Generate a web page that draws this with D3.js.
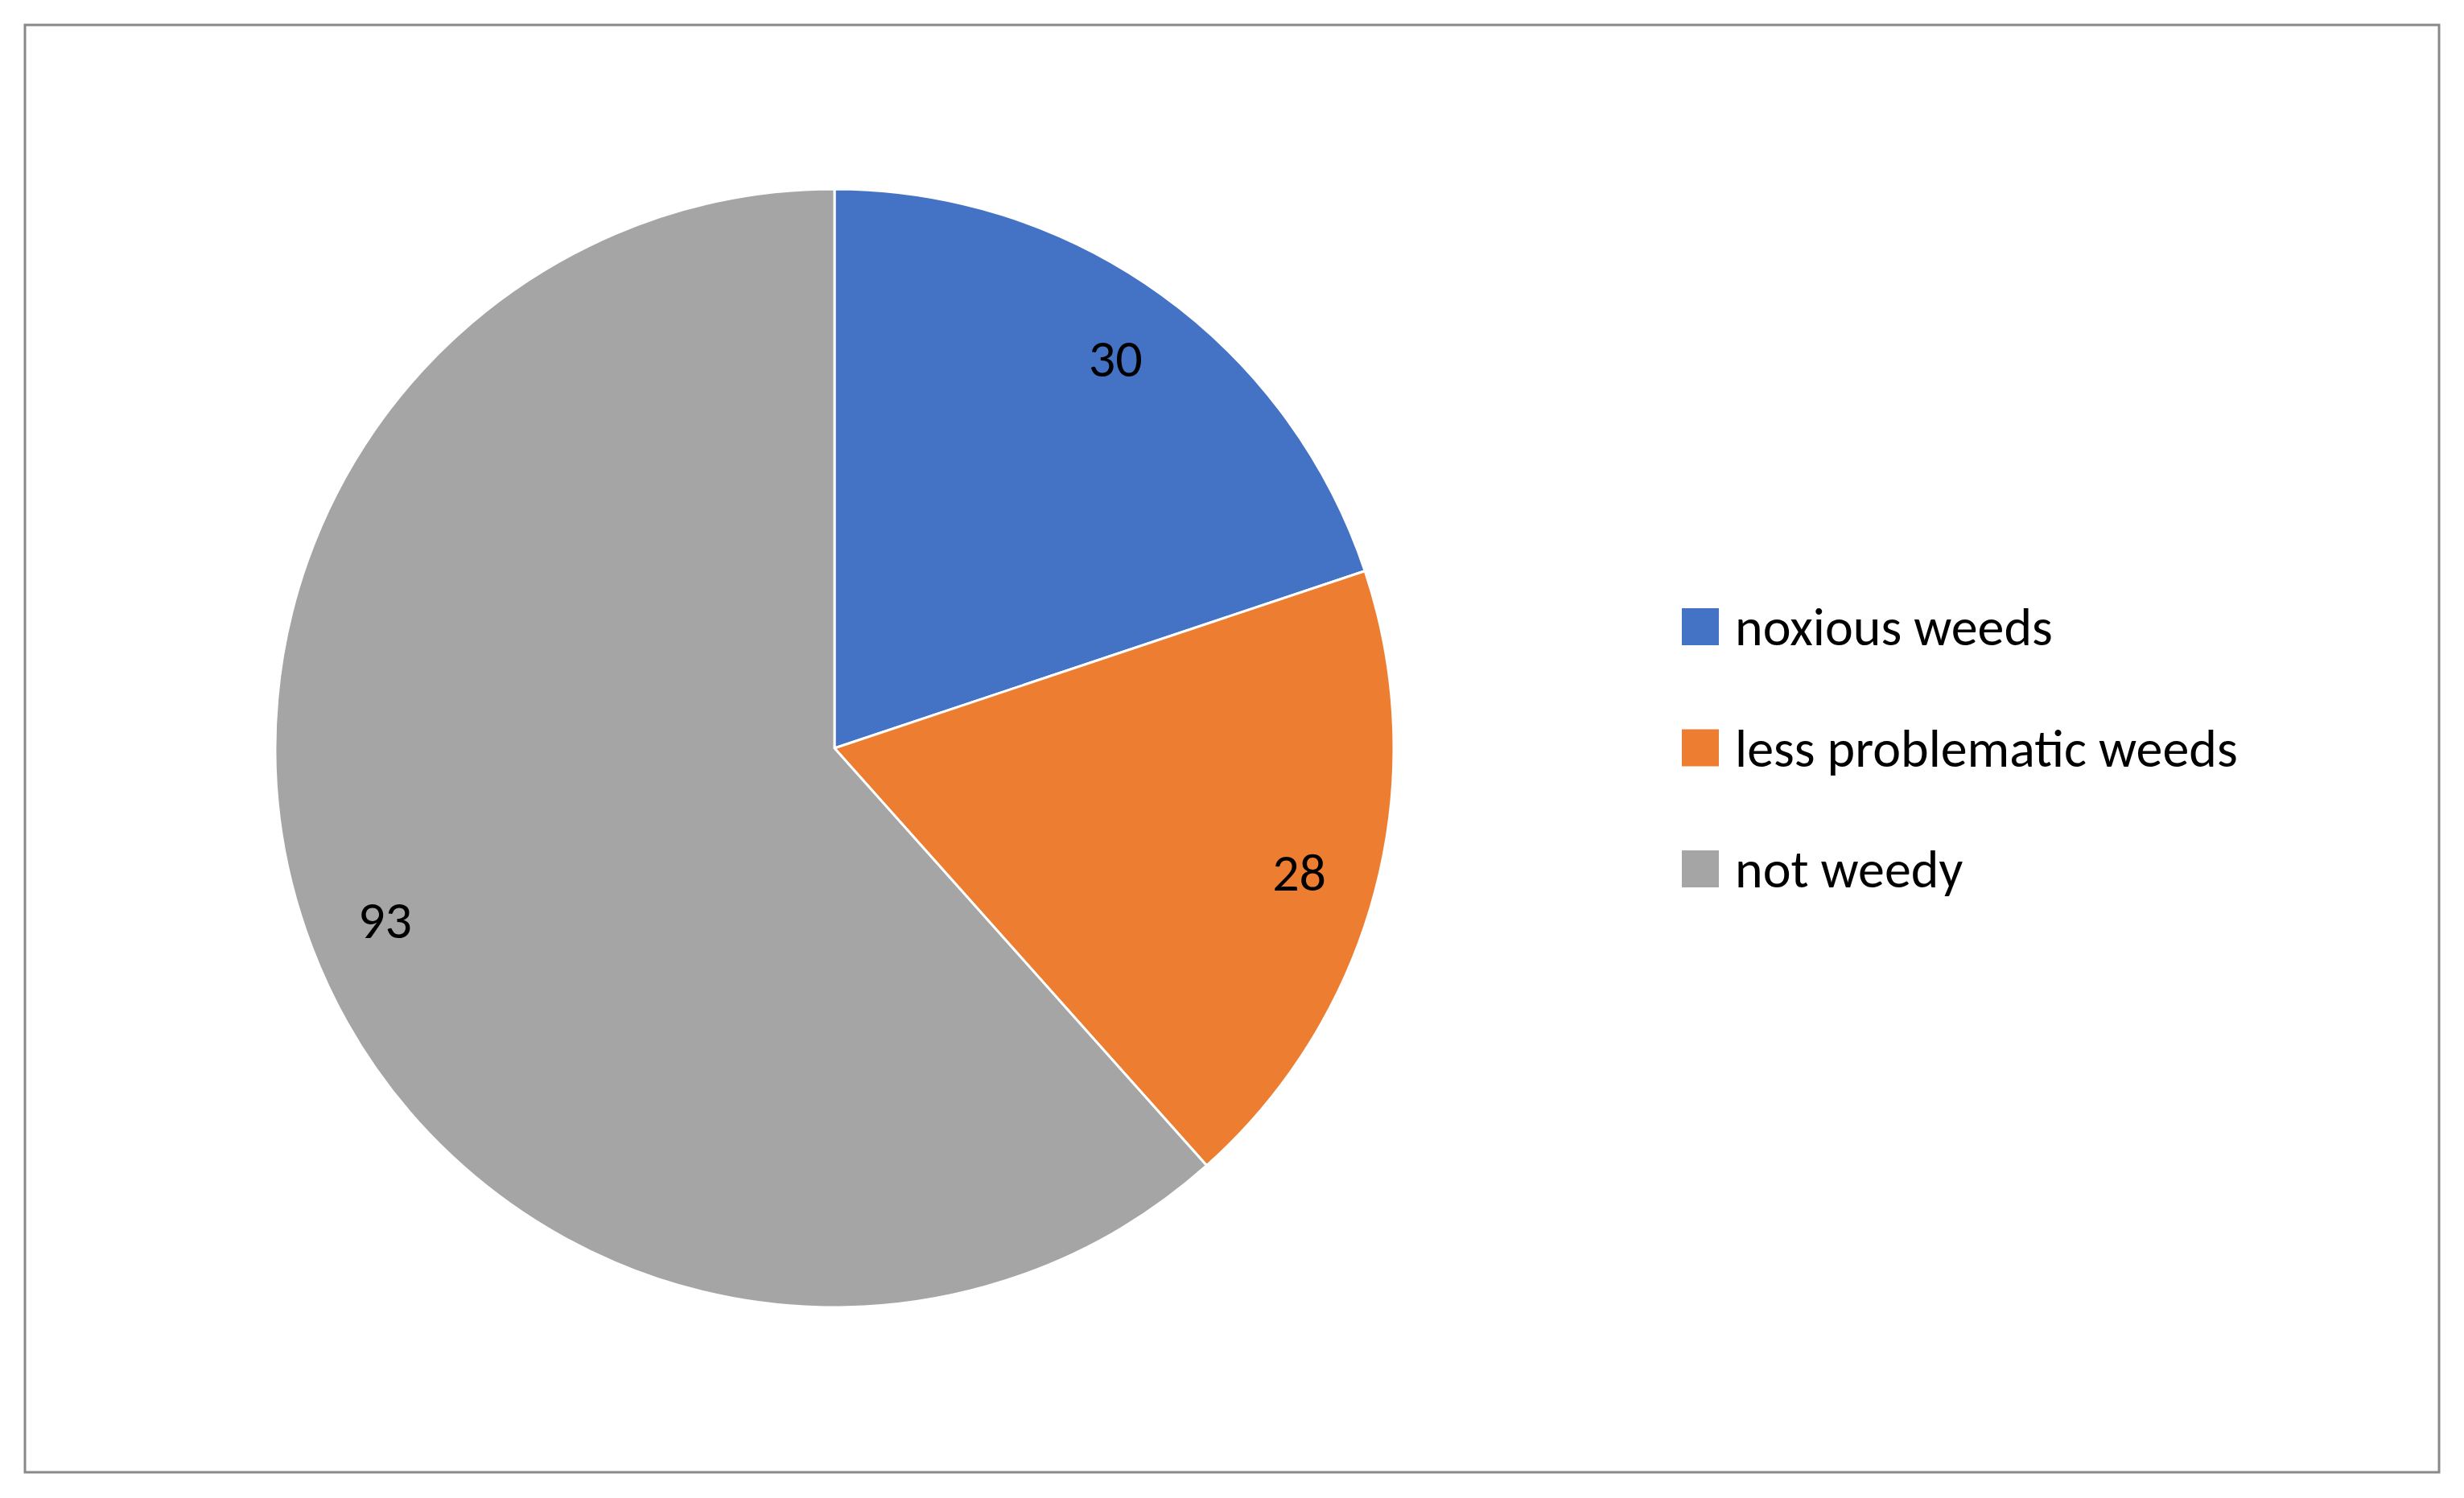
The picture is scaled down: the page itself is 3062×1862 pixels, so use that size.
<!DOCTYPE html>
<html>
<head>
<meta charset="utf-8">
<script src="https://cdn.jsdelivr.net/npm/d3@7"></script>
<style>
  body { margin: 0; background: #fff; }
  text { font-family: Carlito, Calibri, "Open Sans", sans-serif; }
</style>
</head>
<body>
<svg id="chart"></svg>
<script>
const categories = ["noxious weeds", "less problematic weeds", "not weedy"];
const values = [30, 28, 93];
const colors = ["#4472c4", "#ed7d31", "#a5a5a5"];

const width = 3062, height = 1862;
const cx = 1037, cy = 930, r = 695;

const svg = d3.select("#chart").attr("width", width).attr("height", height);

svg.append("rect")
  .attr("x", 31).attr("y", 31)
  .attr("width", 3000).attr("height", 1799)
  .attr("fill", "#fff").attr("stroke", "#898989").attr("stroke-width", 3);

const pie = d3.pie().sort(null).value(d => d)(values);
const arc = d3.arc().innerRadius(0).outerRadius(r);
const labelArc = d3.arc().innerRadius(r * 0.86).outerRadius(r * 0.86);

const g = svg.append("g").attr("transform", `translate(${cx},${cy})`);
g.selectAll("path").data(pie).join("path")
  .attr("d", arc)
  .attr("fill", (d, i) => colors[i])
  .attr("stroke", "#fff").attr("stroke-width", 3);

g.selectAll("text").data(pie).join("text")
  .attr("transform", d => `translate(${labelArc.centroid(d)})`)
  .attr("text-anchor", "middle").attr("dy", "0.35em")
  .attr("font-size", 66).attr("fill", "#000")
  .text(d => d.data);

const color = d3.scaleOrdinal().domain(categories).range(colors);
const ly = d3.scalePoint().domain(categories).range([779, 1080]);
const legend = svg.append("g").selectAll("g").data(categories).join("g")
  .attr("transform", d => `translate(2090,${ly(d)})`);
legend.append("rect")
  .attr("x", 0).attr("y", -23).attr("width", 46).attr("height", 46)
  .attr("fill", d => color(d));
legend.append("text")
  .attr("x", 66).attr("dy", "0.35em")
  .attr("font-size", 66).attr("fill", "#000")
  .text(d => d);
</script>
</body>
</html>
